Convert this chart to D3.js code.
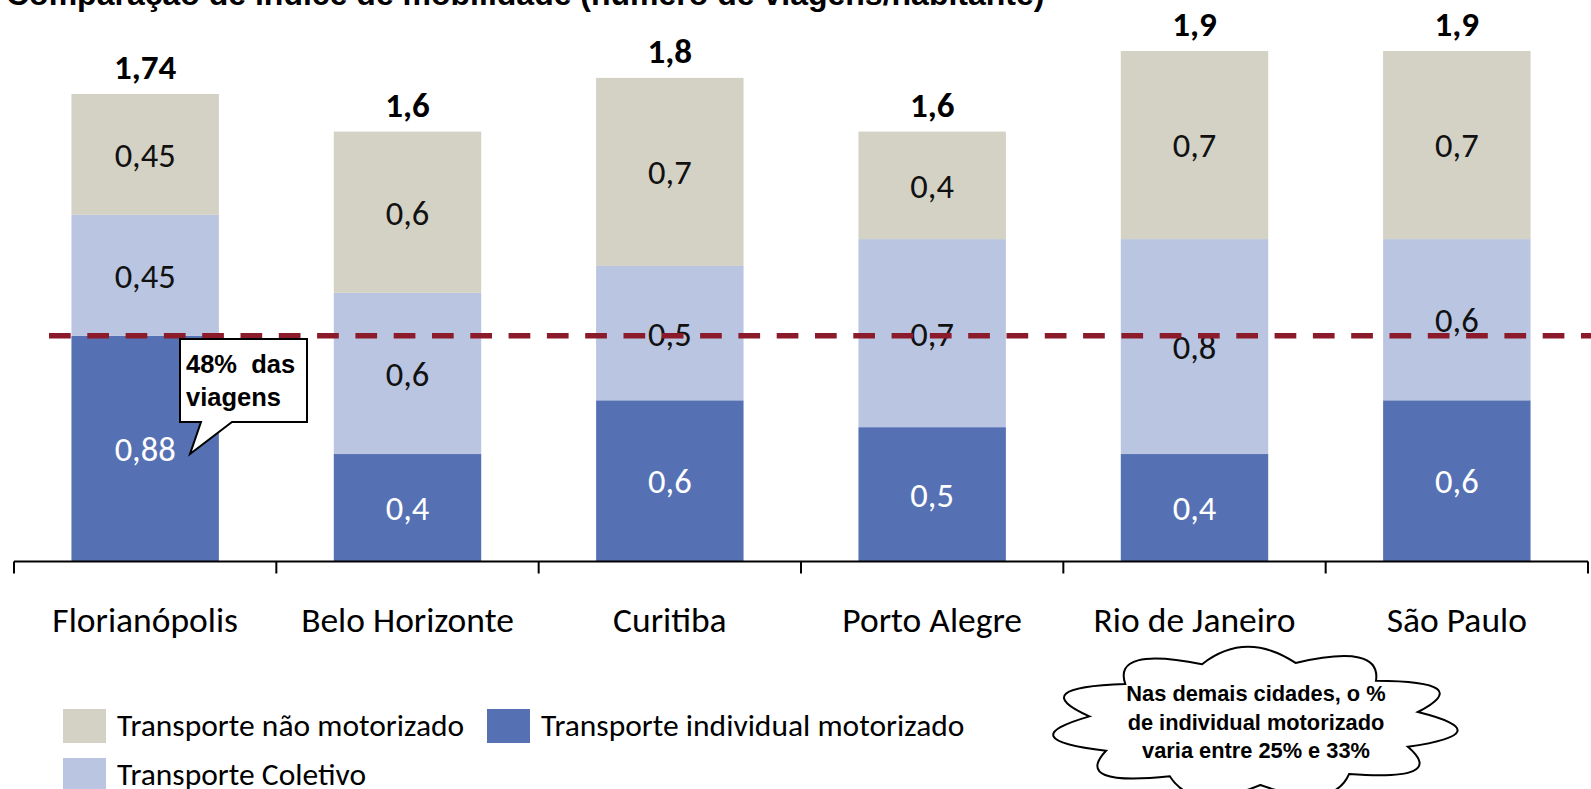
<!DOCTYPE html>
<html>
<head>
<meta charset="utf-8">
<script src="https://cdn.jsdelivr.net/npm/d3@7"></script>
<style>
  html, body { margin: 0; padding: 0; background: #fff; overflow: hidden; }
  svg { display: block; }
</style>
</head>
<body>
<svg id="chart" width="1591" height="789"></svg>
<script>
// ---- data ----
const categories = ["Florianópolis", "Belo Horizonte", "Curitiba", "Porto Alegre", "Rio de Janeiro", "São Paulo"];
const individualMotorizado = [0.84, 0.4, 0.6, 0.5, 0.4, 0.6];
const transporteColetivo = [0.45, 0.6, 0.5, 0.7, 0.8, 0.6];
const naoMotorizado = [0.45, 0.6, 0.7, 0.4, 0.7, 0.7];
const individualLabels = ["0,88", "0,4", "0,6", "0,5", "0,4", "0,6"];
const coletivoLabels = ["0,45", "0,6", "0,5", "0,7", "0,8", "0,6"];
const naoLabels = ["0,45", "0,6", "0,7", "0,4", "0,7", "0,7"];
const totalLabels = ["1,74", "1,6", "1,8", "1,6", "1,9", "1,9"];
const seriesNames = ["Transporte não motorizado", "Transporte individual motorizado", "Transporte Coletivo"];
const titleText = "Comparação de índice de mobilidade (número de viagens/habitante)";
const calloutLines = ["48%  das", "viagens"];
const cloudLines = ["Nas demais cidades, o %", "de individual motorizado", "varia entre 25% e 33%"];

// ---- styles ----
const colors = { nao: "#D4D1C5", coletivo: "#B9C5E1", individual: "#5571B4" };
const labelFont = "Carlito, Calibri, Lato, sans-serif";
const arialFont = "Arial, 'Liberation Sans', sans-serif";

const svg = d3.select("#chart");

const x = d3.scaleBand().domain(categories).range([14, 1588]).padding(0);
const y = d3.scaleLinear().domain([0, 1.9]).range([561.5, 51]);
const barW = x.bandwidth() * 0.562;
const barX = c => x(c) + (x.bandwidth() - barW) / 2;

// stack
const rows = categories.map((c, i) => ({
  cat: c,
  individual: individualMotorizado[i],
  coletivo: transporteColetivo[i],
  nao: naoMotorizado[i]
}));
const stack = d3.stack().keys(["individual", "coletivo", "nao"])(rows);
const labelMap = { individual: individualLabels, coletivo: coletivoLabels, nao: naoLabels };

// title (partially cut at top, as in the source)
svg.append("text")
  .attr("x", 6).attr("y", 5)
  .attr("font-family", arialFont).attr("font-weight", "bold")
  .attr("font-size", 32).attr("fill", "#000")
  .text(titleText);

// bars
stack.forEach(layer => {
  const g = svg.append("g");
  g.selectAll("rect").data(layer).enter().append("rect")
    .attr("x", d => barX(d.data.cat))
    .attr("y", d => y(d[1]))
    .attr("width", barW)
    .attr("height", d => y(d[0]) - y(d[1]))
    .attr("fill", colors[layer.key]);
});

// segment labels
stack.forEach(layer => {
  svg.append("g").selectAll("text").data(layer).enter().append("text")
    .attr("x", d => x(d.data.cat) + x.bandwidth() / 2)
    .attr("y", d => (y(d[0]) + y(d[1])) / 2)
    .attr("dy", "0.36em")
    .attr("text-anchor", "middle")
    .attr("font-family", labelFont)
    .attr("font-size", 34.5)
    .attr("fill", layer.key === "individual" ? "#fff" : "#111")
    .text((d, i) => labelMap[layer.key][i]);
});

// totals
svg.append("g").selectAll("text").data(rows).enter().append("text")
  .attr("x", d => x(d.cat) + x.bandwidth() / 2)
  .attr("y", d => y(d.individual + d.coletivo + d.nao) - 15)
  .attr("text-anchor", "middle")
  .attr("font-family", labelFont).attr("font-weight", "bold")
  .attr("font-size", 35).attr("fill", "#000")
  .text((d, i) => totalLabels[i]);

// axis
const axisY = y(0);
const axisG = svg.append("g");
axisG.append("line")
  .attr("x1", x.range()[0]).attr("x2", x.range()[1])
  .attr("y1", axisY).attr("y2", axisY)
  .attr("stroke", "#000").attr("stroke-width", 2.2);
const edges = categories.map(c => x(c)).concat([x(categories[categories.length - 1]) + x.bandwidth()]);
axisG.selectAll("line.tick").data(edges).enter().append("line")
  .attr("class", "tick")
  .attr("x1", d => d).attr("x2", d => d)
  .attr("y1", axisY).attr("y2", axisY + 12)
  .attr("stroke", "#000").attr("stroke-width", 2);
axisG.selectAll("text").data(categories).enter().append("text")
  .attr("x", d => x(d) + x.bandwidth() / 2)
  .attr("y", axisY + 70)
  .attr("text-anchor", "middle")
  .attr("font-family", labelFont)
  .attr("font-size", 35.5).attr("fill", "#000")
  .text(d => d);

// dashed reference line at Florianópolis individual share
const refY = y(individualMotorizado[0]);
svg.append("line")
  .attr("x1", 49).attr("x2", 1591)
  .attr("y1", refY).attr("y2", refY)
  .attr("stroke", "#8B1A2A").attr("stroke-width", 5.5)
  .attr("stroke-dasharray", "21.7 16.6");

// callout
const bx = 180, by = 339, bw = 127, bh = 83;
const tipX = 190, tipY = y(0.4);
const callPath = d3.path();
callPath.moveTo(bx, by);
callPath.lineTo(bx + bw, by);
callPath.lineTo(bx + bw, by + bh);
callPath.lineTo(232, by + bh);
callPath.lineTo(tipX, tipY);
callPath.lineTo(201, by + bh);
callPath.lineTo(bx, by + bh);
callPath.closePath();
svg.append("path").attr("d", callPath.toString())
  .attr("fill", "#fff").attr("stroke", "#000").attr("stroke-width", 2);
svg.append("g").selectAll("text").data(calloutLines).enter().append("text")
  .attr("x", bx + 6).attr("y", (d, i) => by + 34 + i * 33)
  .attr("font-family", arialFont).attr("font-weight", "bold")
  .attr("font-size", 25.5).attr("fill", "#000")
  .attr("xml:space", "preserve")
  .text(d => d);

// cloud
const cx = 1254.5, cy = 723, rx = 166, ry = 62;
const nLobes = 11;
const cloud = d3.path();
const pt = (a, k) => [cx + rx * k * Math.cos(a), cy + ry * k * Math.sin(a)];
const a0 = -Math.PI / 2 + 0.25;
for (let i = 0; i <= nLobes; i++) {
  const a = a0 + (i / nLobes) * 2 * Math.PI;
  const p = pt(a, 1);
  if (i === 0) { cloud.moveTo(p[0], p[1]); continue; }
  const am = a0 + ((i - 0.5) / nLobes) * 2 * Math.PI;
  const c = pt(am, 1.5);
  cloud.quadraticCurveTo(c[0], c[1], p[0], p[1]);
}
cloud.closePath();
svg.append("path").attr("d", cloud.toString())
  .attr("fill", "#fff").attr("stroke", "#000").attr("stroke-width", 2);
svg.append("g").selectAll("text").data(cloudLines).enter().append("text")
  .attr("x", 1256).attr("y", (d, i) => 701 + i * 28.5)
  .attr("text-anchor", "middle")
  .attr("font-family", arialFont).attr("font-weight", "bold")
  .attr("font-size", 21.8).attr("fill", "#000")
  .text(d => d);

// legend
const legendItems = [
  { name: seriesNames[0], color: colors.nao, x: 63, y: 709 },
  { name: seriesNames[1], color: colors.individual, x: 487, y: 709 },
  { name: seriesNames[2], color: colors.coletivo, x: 63, y: 758 }
];
const lg = svg.append("g").selectAll("g").data(legendItems).enter().append("g");
lg.append("rect")
  .attr("x", d => d.x).attr("y", d => d.y)
  .attr("width", 43).attr("height", 34)
  .attr("fill", d => d.color);
lg.append("text")
  .attr("x", d => d.x + 54).attr("y", d => d.y + 27)
  .attr("font-family", labelFont)
  .attr("font-size", 31.5).attr("fill", "#000")
  .text(d => d.name);
</script>
</body>
</html>
